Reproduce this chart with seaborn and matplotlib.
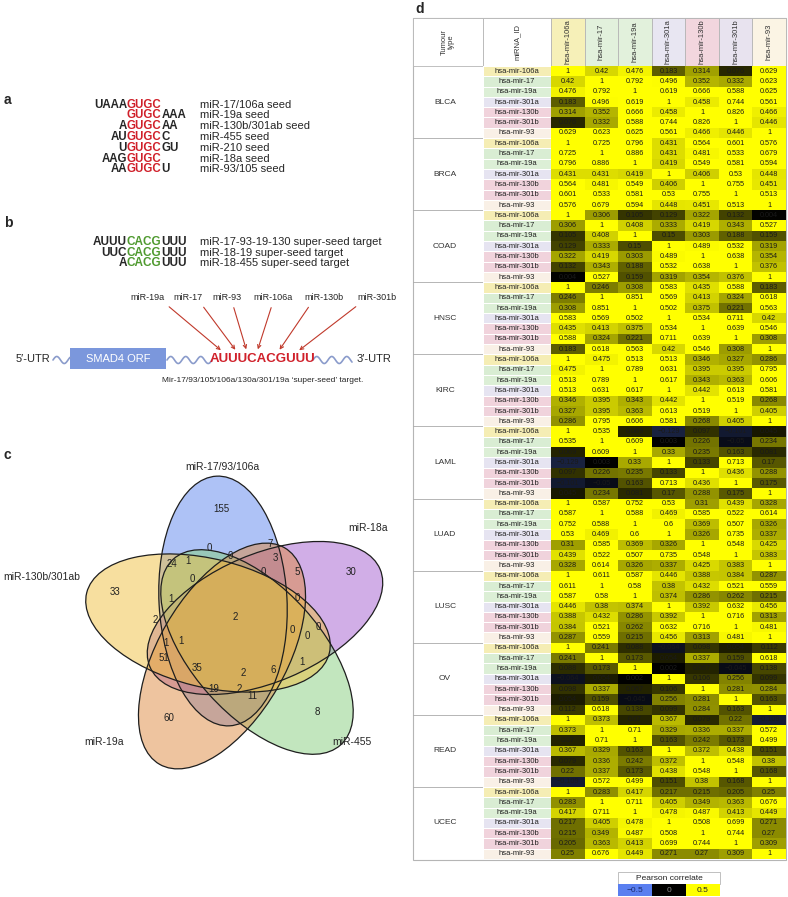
import numpy as np
import pandas as pd
import seaborn as sns
import matplotlib.pyplot as plt
from matplotlib.colors import LinearSegmentedColormap, ListedColormap
from matplotlib.patches import Ellipse, Rectangle

sns.set_style('white')
plt.rcParams['font.family'] = ['Liberation Sans', 'DejaVu Sans']

W, H = 788, 897

# panel a: seed sequences (prefix, core, suffix)
seed_seqs = [('UAAA', 'GUGC', ''), ('', 'GUGC', 'AAA'), ('A', 'GUGC', 'AA'), ('AU', 'GUGC', 'C'),
             ('U', 'GUGC', 'GU'), ('AAG', 'GUGC', ''), ('AA', 'GUGC', 'U')]
seed_names = ['miR-17/106a seed', 'miR-19a seed', 'miR-130b/301ab seed', 'miR-455 seed',
              'miR-210 seed', 'miR-18a seed', 'miR-93/105 seed']

# panel b: super-seed targets
super_seqs = [('AUUU', 'CACG', 'UUU'), ('UUC', 'CACG', 'UUU'), ('A', 'CACG', 'UUU')]
super_names = ['miR-17-93-19-130 super-seed target', 'miR-18-19 super-seed target',
               'miR-18-455 super-seed target']
target_mirs = ['miR-19a', 'miR-17', 'miR-93', 'miR-106a', 'miR-130b', 'miR-301b']

# panel c: venn
venn_sets = ['miR-17/93/106a', 'miR-130b/301ab', 'miR-19a', 'miR-455', 'miR-18a']
venn_colors = ['#5f86ee', '#f0c040', '#de8a40', '#86cf7e', '#a55fd0']
venn_counts = [155, 7, 0, 0, 3, 24, 1, 0, 5, 30, 0, 33, 1, 0, 2, 2, 0, 0, 0, 1, 1,
               51, 1, 35, 2, 6, 19, 2, 11, 60, 8]

# panel d: correlation upper triangles (row-wise, mirna order below)
mirnas = ['hsa-mir-106a', 'hsa-mir-17', 'hsa-mir-19a', 'hsa-mir-301a',
          'hsa-mir-130b', 'hsa-mir-301b', 'hsa-mir-93']
tumours = ['BLCA', 'BRCA', 'COAD', 'HNSC', 'KIRC', 'LAML', 'LUAD', 'LUSC', 'OV', 'READ', 'UCEC']
blca = [0.42, 0.476, 0.183, 0.314, 0.076, 0.629, 0.792, 0.496, 0.352, 0.332, 0.623,
        0.619, 0.666, 0.588, 0.625, 0.458, 0.744, 0.561, 0.826, 0.466, 0.446]
brca = [0.725, 0.796, 0.431, 0.564, 0.601, 0.576, 0.886, 0.431, 0.481, 0.533, 0.679,
        0.419, 0.549, 0.581, 0.594, 0.406, 0.53, 0.448, 0.755, 0.451, 0.513]
coad = [0.306, 0.105, 0.129, 0.322, 0.132, 0.004, 0.408, 0.333, 0.419, 0.343, 0.527,
        0.15, 0.303, 0.188, 0.159, 0.489, 0.532, 0.319, 0.638, 0.354, 0.376]
hnsc = [0.246, 0.308, 0.583, 0.435, 0.588, 0.183, 0.851, 0.569, 0.413, 0.324, 0.618,
        0.502, 0.375, 0.221, 0.563, 0.534, 0.711, 0.42, 0.639, 0.546, 0.308]
kirc = [0.475, 0.513, 0.513, 0.346, 0.327, 0.286, 0.789, 0.631, 0.395, 0.395, 0.795,
        0.617, 0.343, 0.363, 0.606, 0.442, 0.613, 0.581, 0.519, 0.268, 0.405]
laml = [0.535, 0.069, -0.129, 0.097, -0.101, 0.045, 0.609, 0.003, 0.226, -0.05, 0.234,
        0.33, 0.235, 0.163, 0.081, 0.133, 0.713, 0.17, 0.436, 0.288, 0.175]
luad = [0.587, 0.752, 0.53, 0.31, 0.439, 0.328, 0.588, 0.469, 0.585, 0.522, 0.614,
        0.6, 0.369, 0.507, 0.326, 0.326, 0.735, 0.337, 0.548, 0.425, 0.383]
lusc = [0.611, 0.587, 0.446, 0.388, 0.384, 0.287, 0.58, 0.38, 0.432, 0.521, 0.559,
        0.374, 0.286, 0.262, 0.215, 0.392, 0.632, 0.456, 0.716, 0.313, 0.481]
ov_ = [0.241, 0.088, -0.064, 0.098, 0.054, 0.112, 0.173, 0.054, 0.337, 0.159, 0.618,
       0.002, 0.067, -0.045, 0.138, 0.106, 0.256, 0.099, 0.281, 0.284, 0.163]
read = [0.373, 0.07, 0.367, 0.079, 0.22, -0.109, 0.71, 0.329, 0.336, 0.337, 0.572,
        0.163, 0.242, 0.173, 0.499, 0.372, 0.438, 0.151, 0.548, 0.38, 0.168]
ucec = [0.283, 0.417, 0.217, 0.215, 0.205, 0.25, 0.711, 0.405, 0.349, 0.363, 0.676,
        0.478, 0.487, 0.413, 0.449, 0.508, 0.699, 0.271, 0.744, 0.27, 0.309]
upper = [blca, brca, coad, hnsc, kirc, laml, luad, lusc, ov_, read, ucec]

label_colors = ['#f5edb4', '#d9edd3', '#dcefd6', '#e6e4f1', '#f1d3dc', '#f0d3dc', '#f9f0e6']
head_colors = ['#f6f0b8', '#e2f1dc', '#e2f1dc', '#e8e6f2', '#f2d6de', '#e8e3ef', '#fbf4e4']


def full_matrix(vals):
    m = np.eye(7)
    iu = np.triu_indices(7, 1)
    m[iu] = vals
    m.T[iu] = vals
    return m


corr = np.vstack([full_matrix(v) for v in upper])
idx = pd.MultiIndex.from_product([tumours, mirnas], names=['Tumour type', 'miRNA_ID'])
df = pd.DataFrame(corr, index=idx, columns=mirnas)
annot = np.vectorize(lambda v: ('%g' % round(v, 3)).replace('-', '\u2212'))(df.values)

fig = plt.figure(figsize=(W / 100, H / 100), dpi=100)
ov = fig.add_axes([0, 0, 1, 1])
ov.set_xlim(0, W)
ov.set_ylim(H, 0)
ov.axis('off')


def px_axes(x0, y0, x1, y1):
    return fig.add_axes([x0 / W, 1 - y1 / H, (x1 - x0) / W, (y1 - y0) / H])


for lab, (x, y) in zip('abcd', [(4, 100), (4, 223), (4, 455), (415, 9)]):
    ov.text(x, y, lab, fontsize=10, fontweight='bold', va='center')


def seq_line(x, y, pre, core, post, color, size=8):
    t = ov.text(x, y, core, color=color, fontsize=size, fontweight='bold', ha='left', va='center')
    ov.annotate(pre, xy=(0, 0.5), xycoords=t, ha='right', va='center', fontsize=size, fontweight='bold')
    ov.annotate(post, xy=(1, 0.5), xycoords=t, ha='left', va='center', fontsize=size, fontweight='bold')


# panel a
for i, ((pre, core, post), name) in enumerate(zip(seed_seqs, seed_names)):
    y = 104.5 + i * 10.8
    seq_line(127, y, pre, core, post, '#d0202a', size=8.3)
    ov.text(200, y, name, fontsize=8, va='center')

# panel b
for i, ((pre, core, post), name) in enumerate(zip(super_seqs, super_names)):
    y = 242 + i * 10.5
    seq_line(127, y, pre, core, post, '#4f9a2f', size=8.5)
    ov.text(200, y, name, fontsize=8, va='center')

name_x = [147, 188, 227, 273, 324, 377]
arrow_start = [167, 202, 233, 272, 310, 358]
arrow_end = [223, 237, 247, 257, 278, 297]
for name, nx, sx, ex in zip(target_mirs, name_x, arrow_start, arrow_end):
    ov.text(nx, 298, name, fontsize=6.5, ha='center', va='center')
    ov.annotate('', xy=(ex, 352), xytext=(sx, 305),
                arrowprops=dict(arrowstyle='->', color='#c0392b', lw=0.8, mutation_scale=6))


def wave(x0, x1, y0, period=15, amp=3.5):
    xs = np.linspace(x0, x1, 120)
    ov.plot(xs, y0 - amp * np.sin(2 * np.pi * (xs - x0) / period), color='#8a9bcb', lw=1.2)


wave(53, 70, 360)
wave(167, 212, 360)
wave(313, 352, 360)
ov.text(50, 359, '5\u2032-UTR', fontsize=8, ha='right', va='center')
ov.text(357, 359, '3\u2032-UTR', fontsize=8, ha='left', va='center')
ov.add_patch(Rectangle((70, 348), 96, 21, facecolor='#7b97dc', edgecolor='none'))
ov.text(118, 358.5, 'SMAD4 ORF', fontsize=8, color='white', ha='center', va='center')
ov.text(262, 358.5, 'AUUUCACGUUU', fontsize=9.5, fontweight='bold', color='#d0202a',
        ha='center', va='center')
ov.text(263, 381, 'Mir-17/93/105/106a/130a/301/19a \u2018super-seed\u2019 target.',
        fontsize=6, ha='center', va='center')

# panel c: venn (ellipse centres and orientations)
a_ax, b_ax = 125, 64
venn_centres = [(223, 601), (208, 623), (222, 656), (257, 652), (265, 618)]
venn_angles = [93, 166, 240, 312, 23]
draw_order = [0, 4, 3, 2, 1]
for k in draw_order:
    ov.add_patch(Ellipse(venn_centres[k], 2 * a_ax, 2 * b_ax, angle=-venn_angles[k],
                         facecolor=venn_colors[k], alpha=0.5, edgecolor='none'))
for k in draw_order:
    ov.add_patch(Ellipse(venn_centres[k], 2 * a_ax, 2 * b_ax, angle=-venn_angles[k],
                         fill=False, edgecolor='#1e1e1e', lw=0.9))

venn_pos = [(221, 509), (270, 544), (209, 548), (230, 556), (275, 558), (172, 564), (188, 561),
            (263, 572), (297, 572), (351, 572), (192, 579), (115, 592), (171, 599), (297, 598),
            (235, 617), (155, 620), (292, 630), (318, 627), (307, 636), (166, 643), (181, 641),
            (164, 658), (302, 662), (197, 668), (243, 673), (273, 670), (214, 689), (239, 689),
            (252, 696), (169, 718), (317, 712)]
for n, (x, y) in zip(venn_counts, venn_pos):
    ov.text(x, y, str(n), fontsize=7, ha='center', va='center', color='#222')
for name, (x, y) in zip(venn_sets, [(222, 467), (42, 577), (104, 742), (352, 742), (368, 528)]):
    ov.text(x, y, name, fontsize=7.5, ha='center', va='center')

# panel d: table
x_tum, x_lab, x_dat, x_end = 413, 483, 551, 786
y_top, y_head, y_bot = 18, 66, 859
cw = (x_end - x_dat) / 7
rh = (y_bot - y_head) / len(df)

ov.add_patch(Rectangle((x_tum, y_top), x_end - x_tum, y_bot - y_top + 1,
                       facecolor='white', edgecolor='#b5b5b5', lw=0.8))
ov.add_patch(Rectangle((x_tum, y_top), x_lab - x_tum, y_head - y_top, facecolor='white',
                       edgecolor='#b5b5b5', lw=0.6))
ov.add_patch(Rectangle((x_lab, y_top), x_dat - x_lab, y_head - y_top, facecolor='white',
                       edgecolor='#b5b5b5', lw=0.6))
ov.text((x_tum + x_lab) / 2, (y_top + y_head) / 2, 'Tumour\ntype', rotation=90, fontsize=5.5,
        ha='center', va='center', color='#333', linespacing=1.1)
ov.text((x_lab + x_dat) / 2, (y_top + y_head) / 2, 'miRNA_ID', rotation=90, fontsize=5.5,
        ha='center', va='center', color='#333')
for j, (m, c) in enumerate(zip(mirnas, head_colors)):
    x0 = x_dat + j * cw
    ov.add_patch(Rectangle((x0, y_top), cw, y_head - y_top, facecolor=c, edgecolor='#b5b5b5', lw=0.6))
    ov.text(x0 + cw / 2, (y_top + y_head) / 2, m, rotation=90, fontsize=5.5,
            ha='center', va='center', color='#333')
for k, t in enumerate(tumours):
    ov.text((x_tum + x_lab) / 2 - 3, y_head + (7 * k + 3.5) * rh, t, fontsize=6,
            ha='center', va='center', color='#333')
    if k > 0:
        ov.plot([x_tum, x_lab], [y_head + 7 * k * rh] * 2, color='#aaaaaa', lw=0.6)

cmap = LinearSegmentedColormap.from_list('pearson', ['#5a7ff0', '#000000', '#ffff00'])

ax_lab = px_axes(x_lab, y_head, x_dat, y_bot)
lab_idx = np.tile(np.arange(7), len(tumours)).reshape(-1, 1)
lab_txt = np.array(mirnas * len(tumours)).reshape(-1, 1)
sns.heatmap(lab_idx, ax=ax_lab, cmap=ListedColormap(label_colors), vmin=-0.5, vmax=6.5, cbar=False,
            annot=lab_txt, fmt='', annot_kws=dict(size=5.5, color='#222'), linewidths=0.7,
            linecolor='white', xticklabels=False, yticklabels=False)
ax_lab.set_xlabel('')
ax_lab.set_ylabel('')

ax_hm = px_axes(x_dat, y_head, x_end, y_bot)
sns.heatmap(df, ax=ax_hm, cmap=cmap, vmin=-0.5, vmax=0.5, cbar=False, annot=annot, fmt='',
            annot_kws=dict(size=5.2, color='#1a1a1a'), xticklabels=False, yticklabels=False)
ax_hm.set_xlabel('')
ax_hm.set_ylabel('')

# legend
ov.add_patch(Rectangle((618, 872), 102, 12, facecolor='white', edgecolor='#b5b5b5', lw=0.6))
ov.text(669, 878, 'Pearson correlate', fontsize=6, ha='center', va='center', color='#222')
leg_vals = [-0.5, 0, 0.5]
ax_leg = px_axes(618, 884, 720, 896)
sns.heatmap(np.array([leg_vals]), ax=ax_leg, cmap=cmap, vmin=-0.5, vmax=0.5, cbar=False,
            annot=np.array([['\u22120.5', '0', '0.5']]), fmt='', annot_kws=dict(size=6),
            xticklabels=False, yticklabels=False)
for t, c in zip(ax_leg.texts, ['#1b2a6b', '#8a8a8a', '#222222']):
    t.set_color(c)

fig.savefig('out.png', dpi=100)
